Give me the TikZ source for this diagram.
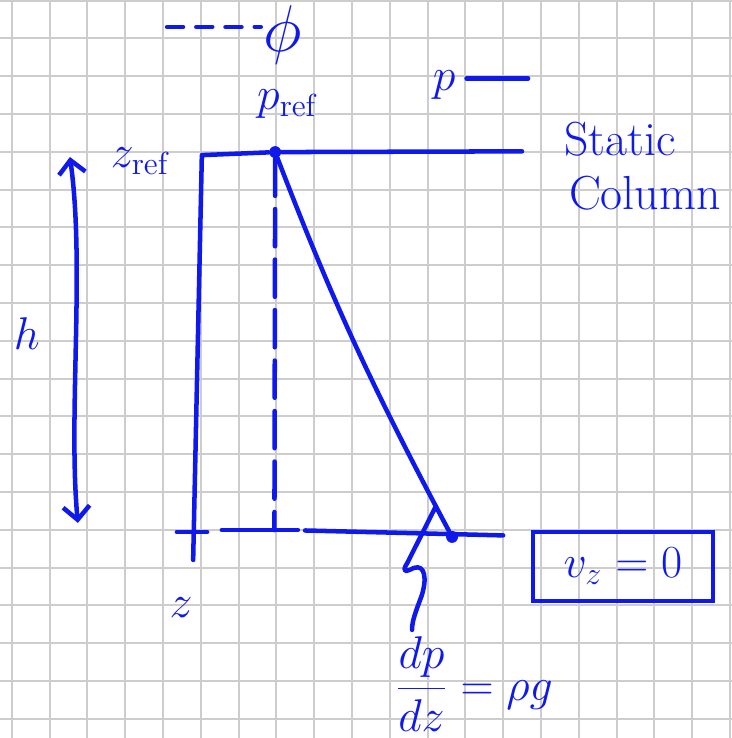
\documentclass[tikz,border=0pt]{standalone}
\usepackage{amsmath}
\usetikzlibrary{arrows.meta}
\usetikzlibrary{positioning}
\definecolor{inkblue}{RGB}{15,25,235}
\definecolor{gridgray}{RGB}{205,205,205}

\begin{document}
\begin{tikzpicture}[x=0.5cm, y=0.5cm,
    ink/.style={draw=inkblue, line width=1.7pt, line cap=round, line join=round},
    lbl/.style={text=inkblue, inner sep=1pt, font=\fontsize{17}{20}\selectfont},
    dot/.style={circle, fill=inkblue, inner sep=0pt, minimum size=4.5pt},
    barb/.style={{Straight Barb[length=5pt,width=10pt]}-{Straight Barb[length=5pt,width=10pt]}}]
        \useasboundingbox (0,0) rectangle (19.365,19.524);
        \foreach \i in {0,...,19} \draw[gridgray, line width=0.75pt] (\i+0.31,0) -- (\i+0.31,19.524);
        \foreach \j in {0,...,19} \draw[gridgray, line width=0.75pt] (0,\j+0.51) -- (19.365,\j+0.51);

        \node[dot] (top) at (7.28,15.5) {};
        \node[dot] (bot) at (11.96,5.32) {};

        \coordinate (corner) at (5.34,15.42);
        \coordinate (wallbot) at (5.11,4.71);
        \coordinate (topend) at (13.81,15.52);
        \coordinate (dashbot) at (7.26,5.5);
        \coordinate (botleft) at (5.87,5.5);
        \coordinate (gapa) at (7.88,5.5);
        \coordinate (gapb) at (8.07,5.49);
        \coordinate (botright) at (13.31,5.36);
        \coordinate (ticka) at (4.68,5.45);
        \coordinate (tickb) at (5.48,5.45);

        \draw[ink] (wallbot) -- (corner) -- (top) -- (topend);
        \draw[ink] (botleft) -- (gapa);
        \draw[ink] (gapb) -- (botright);
        \draw[ink] (ticka) -- (tickb);
        \draw[ink, dash pattern=on 14pt off 5pt] (top) -- (dashbot);
        \draw[ink] (top) to[out=-69, in=118] coordinate[pos=0.94] (hook) (bot);

        \node[lbl, font=\fontsize{19}{22}\selectfont] (grad) at (12.54,1.42) {$\dfrac{dp}{dz} = \rho g$};
        \coordinate (squigend) at (10.9,2.86);
        \draw[ink] (hook) -- (10.78,4.64) .. controls (10.6,4.35) and (10.75,4.4) .. (10.95,4.5)
            .. controls (11.25,4.6) and (11.3,4.2) .. (11.15,3.75)
            .. controls (11.0,3.35) and (10.9,3.1) .. (squigend);

        \coordinate (htop) at (1.85,15.37);
        \coordinate (hbot) at (2.06,5.69);
        \draw[ink, barb] (htop) .. controls (2.25,12.5) and (1.8,8.5) .. (hbot);
        \node[lbl, font=\fontsize{19}{22}\selectfont] (h) at (0.71,10.71) {$h$};

        \node[lbl] (zref) at (3.73,15.27) {$z_{\mathrm{ref}}$};
        \node[lbl] (pref) at (7.62,16.77) {$p_{\mathrm{ref}}$};
        \node[lbl] (zlab) at (4.79,3.44) {$z$};

        \node[lbl, font=\fontsize{26}{28}\selectfont] (phi) at (7.49,18.6) {$\phi$};
        \coordinate (phileg) at (4.42,18.81);
        \draw[ink, dash pattern=on 6pt off 5pt] (phileg) -- (phileg -| phi.west);

        \node[lbl] (pleg) at (11.75,17.28) {$p$};
        \coordinate (plegend) at (13.97,17.45);
        \draw[ink, shorten <=3pt] (pleg.east |- plegend) -- (plegend);

        \node[lbl, font=\fontsize{18}{20}\selectfont] (static) at (16.40,15.85) {Static};
        \node[lbl, font=\fontsize{18}{20}\selectfont] (column) at (17.06,14.42) {Column};

        \node[lbl, draw=inkblue, line width=1.7pt, minimum width=2.38cm, minimum height=0.91cm] (vz) at (16.48,4.54) {$v_z = 0$};
\end{tikzpicture}
\end{document}
